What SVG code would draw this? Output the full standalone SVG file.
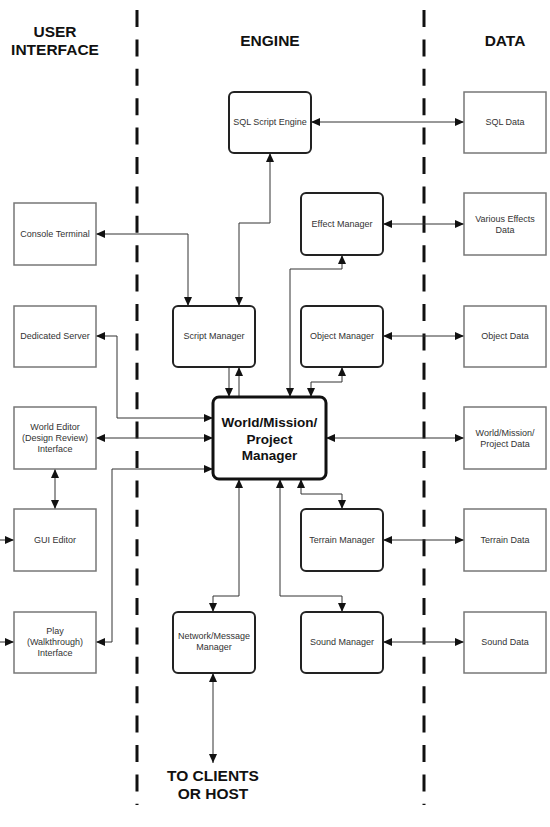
<svg xmlns="http://www.w3.org/2000/svg" width="550" height="827" viewBox="0 0 550 827">
<style>
.hdr{font-family:"Liberation Sans",Arial,sans-serif;font-weight:bold;font-size:15.5px;fill:#111;text-anchor:middle}
.t{font-family:"Liberation Sans",Arial,sans-serif;font-size:9px;fill:#333;text-anchor:middle}
.wm{font-family:"Liberation Sans",Arial,sans-serif;font-weight:bold;font-size:13.5px;fill:#111;text-anchor:middle}
.ui{fill:#fff;stroke:#777;stroke-width:1.5}
.eng{fill:#fff;stroke:#222;stroke-width:2}
.div{stroke:#111;stroke-width:3;stroke-dasharray:17 12.4;fill:none}
.c{fill:none;stroke:#333;stroke-width:1}
.b{marker-start:url(#ar);marker-end:url(#ar)}
.e{marker-end:url(#ar)}
</style>
<defs>
<marker id="ar" markerUnits="userSpaceOnUse" markerWidth="9" markerHeight="8" refX="9" refY="4" orient="auto-start-reverse">
<path d="M0,0 L9,4 L0,8 z" fill="#111"/>
</marker>
</defs>
<rect width="550" height="827" fill="#fff"/>
<g id="dividers">
<line class="div" x1="137" y1="10" x2="137" y2="805"/>
<line class="div" x1="424" y1="10" x2="424" y2="805"/>
</g>
<g id="headers">
<text class="hdr" x="55" y="37">USER</text>
<text class="hdr" x="55" y="55">INTERFACE</text>
<text class="hdr" x="270" y="45.5">ENGINE</text>
<text class="hdr" x="505" y="45.5">DATA</text>
</g>
<g id="connectors">
<path class="c b" d="M311,122 H464"/>
<path class="c b" d="M270,153 V223 H239 V306"/>
<path class="c b" d="M96,234 H188 V306"/>
<path class="c b" d="M96,336 H117 V418 H213"/>
<path class="c b" d="M96,438 H213"/>
<path class="c b" d="M96,642 H112 V469 H213"/>
<path class="c b" d="M55,469 V509"/>
<path class="c e" d="M0,540 H14"/>
<path class="c e" d="M0,642 H14"/>
<path class="c e" d="M229,367 V397"/>
<path class="c e" d="M239,397 V367"/>
<path class="c b" d="M342,255 V269 H290 V397"/>
<path class="c b" d="M342,367 V382 H311 V397"/>
<path class="c b" d="M383,224 H464"/>
<path class="c b" d="M383,336 H464"/>
<path class="c b" d="M326,438 H464"/>
<path class="c b" d="M383,540 H464"/>
<path class="c b" d="M383,642 H464"/>
<path class="c b" d="M301,479 V494 H342 V509"/>
<path class="c b" d="M280,479 V596 H342 V612"/>
<path class="c b" d="M239,479 V596 H213 V612"/>
<path class="c b" d="M213,673 V763"/>
</g>
<g id="console-terminal"><rect class="ui" x="14" y="203" width="82" height="62"/><text class="t" x="55" y="237.2">Console Terminal</text></g>
<g id="dedicated-server"><rect class="ui" x="14" y="306" width="82" height="61"/><text class="t" x="55" y="339.2">Dedicated Server</text></g>
<g id="world-editor"><rect class="ui" x="14" y="407" width="82" height="62"/><text class="t" x="55" y="430.2">World Editor</text><text class="t" x="55" y="441.2">(Design Review)</text><text class="t" x="55" y="452.2">Interface</text></g>
<g id="gui-editor"><rect class="ui" x="14" y="509" width="82" height="62"/><text class="t" x="55" y="543.2">GUI Editor</text></g>
<g id="play-interface"><rect class="ui" x="14" y="612" width="82" height="61"/><text class="t" x="55" y="634.2">Play</text><text class="t" x="55" y="645.2">(Walkthrough)</text><text class="t" x="55" y="656.2">Interface</text></g>
<g id="sql-script-engine"><rect class="eng" x="229" y="92" width="82" height="61" rx="5"/><text class="t" x="270" y="125.2">SQL Script Engine</text></g>
<g id="effect-manager"><rect class="eng" x="301" y="193" width="82" height="62" rx="5"/><text class="t" x="342" y="227.2">Effect Manager</text></g>
<g id="script-manager"><rect class="eng" x="173" y="306" width="82" height="61" rx="5"/><text class="t" x="214" y="339.2">Script Manager</text></g>
<g id="object-manager"><rect class="eng" x="301" y="306" width="82" height="61" rx="5"/><text class="t" x="342" y="339.2">Object Manager</text></g>
<g id="world-mission-project-manager"><rect x="213" y="397" width="113" height="82" rx="6" fill="#fff" stroke="#111" stroke-width="3"/><text class="wm" x="269.5" y="427">World/Mission/</text><text class="wm" x="269.5" y="443.5">Project</text><text class="wm" x="269.5" y="460">Manager</text></g>
<g id="terrain-manager"><rect class="eng" x="301" y="509" width="82" height="62" rx="5"/><text class="t" x="342" y="543.2">Terrain Manager</text></g>
<g id="network-message-manager"><rect class="eng" x="173" y="612" width="82" height="61" rx="5"/><text class="t" x="214" y="639.2">Network/Message</text><text class="t" x="214" y="650.2">Manager</text></g>
<g id="sound-manager"><rect class="eng" x="301" y="612" width="82" height="61" rx="5"/><text class="t" x="342" y="645.2">Sound Manager</text></g>
<g id="sql-data"><rect class="ui" x="464" y="92" width="82" height="61"/><text class="t" x="505" y="125.2">SQL Data</text></g>
<g id="various-effects-data"><rect class="ui" x="464" y="193" width="82" height="62"/><text class="t" x="505" y="222.2">Various Effects</text><text class="t" x="505" y="233.2">Data</text></g>
<g id="object-data"><rect class="ui" x="464" y="306" width="82" height="61"/><text class="t" x="505" y="339.2">Object Data</text></g>
<g id="world-mission-project-data"><rect class="ui" x="464" y="407" width="82" height="62"/><text class="t" x="505" y="436.2">World/Mission/</text><text class="t" x="505" y="447.2">Project Data</text></g>
<g id="terrain-data"><rect class="ui" x="464" y="509" width="82" height="62"/><text class="t" x="505" y="543.2">Terrain Data</text></g>
<g id="sound-data"><rect class="ui" x="464" y="612" width="82" height="61"/><text class="t" x="505" y="645.2">Sound Data</text></g>
<g id="to-clients">
<text class="hdr" x="213" y="780.5">TO CLIENTS</text>
<text class="hdr" x="213" y="798.5">OR HOST</text>
</g>
</svg>
